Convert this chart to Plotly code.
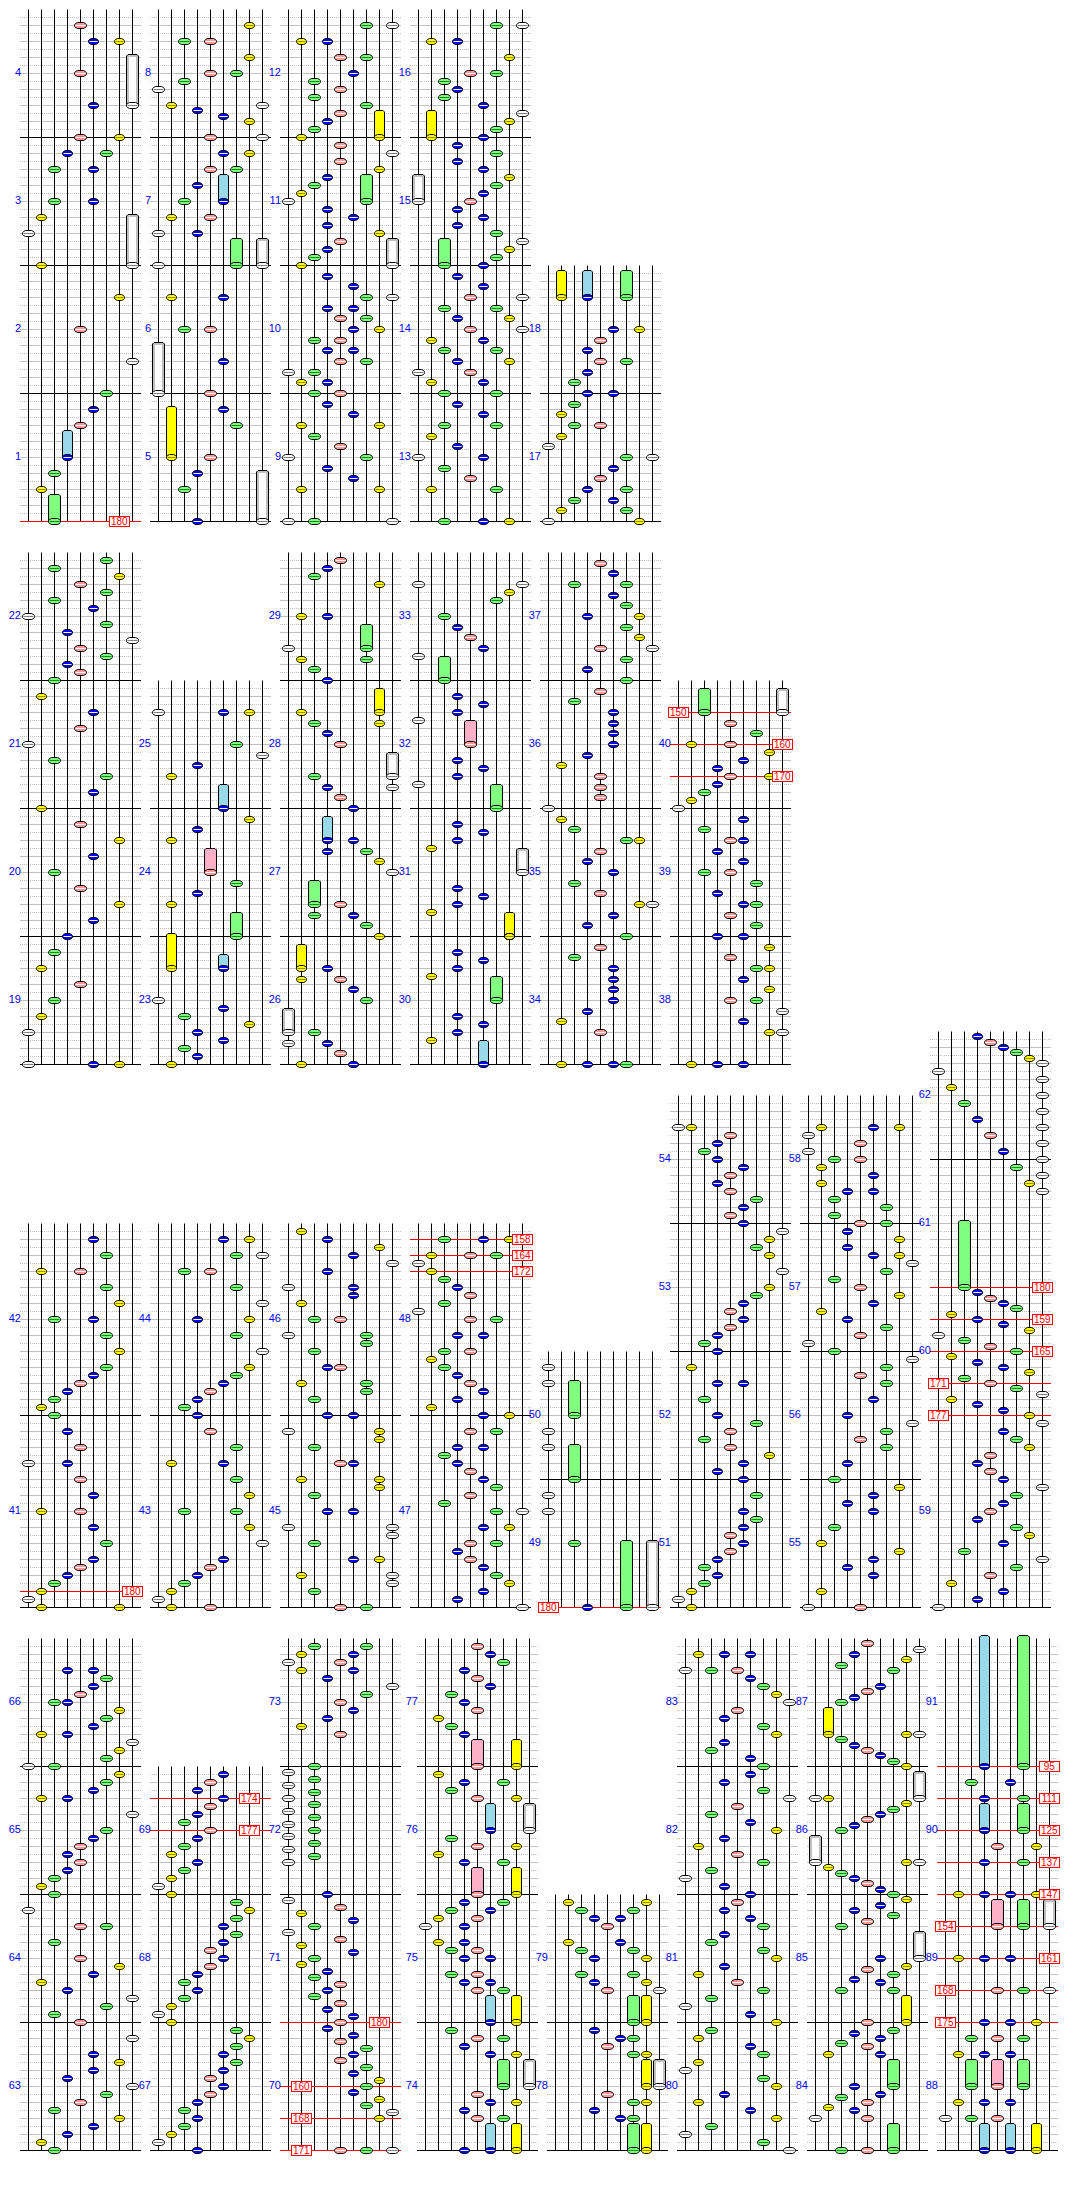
import plotly.graph_objects as go

# ---- data: every note is (tick, lane, lane, ...), ticks counted from the bottom of its column (128 ticks = 4 beats)
LANE_FILL = ["#ffffff", "#ffff00", "#80ff80", "#0000ff", "#ff9999", "#0000ff", "#80ff80", "#ffff00", "#ffffff"]
HOLD_FILL = ["#c0c0c0", "#ffff00", "#80ff80", "#99d9ea", "#ffb0c8", "#99d9ea", "#80ff80", "#ffff00", "#c0c0c0"]
STRIPE = ["#808080", "#909000", "#109010", "#ffffff", "#ffffff", "#ffffff", "#109010", "#909000", "#808080"]

R1C1 = [(32,1),(48,2),(96,4),(112,5),(128,6),(160,8),(192,4),(224,7),(256,1),(288,0),(304,1),(320,2,5),(352,2,5),(368,3,6),(384,4,7),(416,5),(448,4),(480,5,7),(496,4)]
R1C2 = [(0,3),(32,2),(48,3),(64,4),(96,6),(112,5),(128,4),(160,5),(192,2,4),(224,1,5),(256,0),(288,3,0),(304,1,4),(320,2),(336,3),(352,4,6),(368,5,7),(384,4,8),(400,7),(405.33,5),(410.67,3),(416,1,8),(432,0),(440,2),(448,4,6),(464,7),(480,2,4),(496,7)]
R1C3 = [(0,0,2,8),(32,1,7),(42.67,5),(53.33,3),(64,0,6),(74.67,4),(85.33,2),(96,1,7),(106.67,5),(117.33,3),(128,2,4),(138.67,1,3),(149.33,0,2),(160,4,6),(170.67,3,5),(181.33,2,4),(192,5,7),(202.67,4,6),(213.33,3,5),(224,6,8),(234.67,5),(245.33,3),(256,1),(264,2),(272,3),(280,4),(288,7),(296,3),(304,5),(312,3),(320,0),(328,1),(336,2),(344,3),(352,7),(360,4),(368,8),(376,4),(384,1),(392,2),(400,3),(408,4),(416,6),(424,2),(432,4),(440,2),(448,5),(464,6,4),(480,1,3),(496,6,8)]
R1C4 = [(0,2,5,7),(32,1,6),(42.67,4),(53.33,2),(64,0,5),(74.67,3),(85.33,1),(96,2,6),(106.67,5),(117.33,3),(128,2,6),(138.67,1,5),(149.33,0,4),(160,3,7),(170.67,2,6),(181.33,1,5),(192,4,8),(202.67,3,7),(213.33,2,6),(224,4,8),(234.67,5),(245.33,3),(256,5),(264,6),(272,7),(280,8),(288,6),(296,3),(304,5),(312,3),(320,4),(328,5),(336,6),(344,7),(352,5),(360,3),(368,6),(376,3),(384,5),(392,6),(400,7),(408,8),(416,5),(424,2),(432,3),(440,2),(448,6,4),(464,7),(480,1,3),(496,6,8)]
R1C5 = [(0,0,7),(10.67,1,6),(21.33,2,5),(32,3,6),(42.67,4),(53.33,5),(64,6,8),(74.67,0),(85.33,1),(96,2,4),(106.67,1),(117.33,2),(128,3,5),(138.67,2),(149.33,3),(160,4,6),(170.67,3),(181.33,4),(192,5,7)]

R2C1 = [(0,0,5,7),(32,0),(48,1),(64,2),(80,4),(96,1),(112,2),(128,3),(144,5),(160,7),(176,4),(192,2),(208,5),(224,7),(240,4),(256,1),(272,5),(288,6),(304,2),(320,0),(336,4),(352,5),(368,1),(384,2),(392,4),(400,3),(408,6),(416,4),(424,8),(432,3),(440,6),(448,0),(456,5),(464,2),(472,6),(480,4),(488,7),(496,2),(504,6)]
R2C2 = [(0,1),(8,3),(16,2),(24,5),(32,3),(40,7),(48,2),(56,5),(64,0),(160,1),(170.67,3),(181.33,6),(224,1),(234.67,3),(245.33,7),(288,1),(298.67,3),(309.33,8),(320,6),(352,0,5,7)]
R2C3 = [(0,1,5),(10.67,4),(21.33,0,3),(32,2),(64,6),(74.67,5),(85.33,1,4),(96,3),(128,7),(138.67,6),(149.33,2,5),(160,4),(192,8),(202.67,7),(213.33,3,6),(224,5),(256,5),(266.67,4),(277.33,3,8),(288,2),(320,4),(330.67,3),(341.33,2,7),(352,1),(384,3),(394.67,2),(405.33,1,6),(416,0),(448,1,3),(480,7),(488,2),(496,3),(504,4)]
R2C4 = [(24,1),(32,3),(40,5),(48,3),(88,1),(96,3),(104,5),(112,3),(128,7),(152,1),(160,3),(168,5),(176,3),(216,1),(224,3),(232,5),(240,3),(280,0),(288,3),(296,5),(304,3),(344,0),(352,3),(360,5),(368,3),(408,0),(416,5),(426.67,4),(437.33,3),(448,2),(464,6),(472,7),(480,0,8)]
R2C5 = [(0,1,3,5,6),(32,4),(42.67,1),(53.33,3),(64,5),(74.67,5),(85.33,5),(96,5),(106.67,2),(117.33,4),(128,6),(138.67,3),(149.33,5),(160,7,8),(170.67,4),(181.33,2),(192,5),(202.67,3),(213.33,4),(224,6,7),(234.67,2),(245.33,1),(256,0),(266.67,4),(277.33,4),(288,4),(298.67,1),(309.33,3),(320,5),(330.67,5),(341.33,5),(352,5),(362.67,2),(373.33,4),(384,6),(394.67,3),(405.33,6),(416,4,8),(426.67,7),(437.33,6),(448,3,7),(458.67,6),(469.33,5),(480,2,6),(490.67,5),(501.33,4)]
R2C6 = [(0,1,3,5),(32,7,8),(42.67,5),(53.33,8),(64,4,6),(74.67,7),(85.33,5),(96,6,7),(106.67,4),(117.33,7),(128,3,5),(138.67,6),(149.33,4),(160,5,6),(170.67,3),(181.33,6),(192,2,4),(202.67,5),(213.33,3),(224,4,5),(234.67,2),(245.33,5),(256,0),(264,1),(272,2),(280,3),(288,4,7),(296,3),(304,5),(312,7),(320,1,4),(330.67,6),(341.33,4)]

R3C1 = [(0,1,7),(8,0),(16,1),(24,2),(32,3),(40,4),(48,5),(64,6),(80,5),(96,1,4),(112,5),(128,4),(144,0,3),(160,4),(176,3),(192,2),(200,1),(208,2),(216,3),(224,4),(232,5),(240,6),(256,7),(272,6),(288,2,5),(304,7),(320,6),(336,1,4),(352,6),(368,5)]
R3C2 = [(0,1,4),(8,0),(16,1),(24,2),(32,3),(40,4),(48,5),(64,8),(80,7),(96,2,6),(112,7),(128,6),(144,1,5),(160,6),(176,4),(192,3),(200,2),(208,3),(216,4),(224,5),(232,6),(240,7),(256,8),(272,6),(288,3,7),(304,8),(320,6),(336,2,4),(352,6,8),(368,5,7)]
R3C3 = [(0,4,6),(16,2),(24,8),(32,1,8),(48,5,7),(64,2),(72,8),(80,0,8),(96,3,5),(112,2),(120,7),(128,1,7),(144,4,5),(160,2),(168,7),(176,0,7),(192,3,5),(208,2),(216,6),(224,1,6),(240,3,4),(256,2),(264,6),(272,0,6),(288,2,4),(304,1),(312,5),(320,0,5),(336,3),(344,8),(352,5),(360,7),(368,3),(376,1)]
R3C4 = [(0,8),(8,3),(16,5),(24,7),(32,6),(40,5),(48,4),(56,3),(64,4,6),(80,5,7),(96,6,8),(104,2),(112,4),(120,6),(128,5),(136,4),(144,3),(152,2),(160,3,5),(176,4,6),(192,5,7),(200,1),(208,3),(216,5),(224,4),(232,3),(240,2),(248,1),(256,2,4),(272,3,5),(288,4,6),(296,0),(304,2),(312,4),(320,3),(328,2),(336,1),(344,0),(352,1,4,6),(368,2,5,7)]
R3C5 = [(0,3),(64,2),(96,0),(112,0),(160,0),(176,0),(224,0),(240,0)]
R3C6 = [(0,1),(8,0),(16,1),(24,2),(32,3),(40,2),(48,3),(56,4),(64,5),(72,4),(80,5),(88,6),(96,5),(112,6),(128,5),(136,3),(144,5),(152,7),(160,4),(168,2),(176,4),(184,6),(192,3),(208,2),(224,3,5),(240,1),(256,3),(264,2),(272,3),(280,4),(288,5),(296,4),(304,5),(312,6),(320,7),(336,8),(352,7),(360,6),(368,7),(376,8),(384,5),(392,4),(400,5),(408,6),(416,4),(424,3),(432,4),(440,5),(448,3),(456,2),(464,3),(472,4),(480,0,1)]
R3C7 = [(0,0,4),(16,1),(32,5),(40,3),(48,5),(56,7),(64,1),(80,2),(96,5),(104,3),(112,5),(120,7),(128,2),(144,3),(160,6),(168,4),(176,6),(184,8),(192,3),(208,5),(224,6),(232,4),(240,6),(248,8),(256,2),(264,0),(272,4),(280,6),(288,3),(296,1),(304,5),(312,7),(320,4),(328,2),(336,6),(344,8),(352,5,7),(360,3),(368,7),(376,3),(384,4,6),(392,2),(400,6),(408,2),(416,3,5),(424,1),(432,5),(440,1),(448,2,4),(456,0),(464,4),(472,0),(480,1,5,7)]
R3C8 = [(0,0),(8,3),(16,5),(24,1),(32,4),(40,6),(48,8),(56,2),(64,5),(72,7),(80,6),(88,3),(96,4),(104,5),(112,6),(120,8),(128,5),(136,4),(144,3),(152,4),(160,7),(168,6),(176,5),(184,8),(192,7),(197.33,5),(202.67,3),(208,1),(213.33,8),(218.67,6),(224,4),(229.33,2),(234.67,7),(240,5),(245.33,3),(250.67,1),(256,6),(261.33,4),(266.67,2),(272,0),(277.33,7),(282.67,5),(288,3),(293.33,1),(298.67,6),(304,5),(309.33,4),(314.67,3),(416,8),(424,7),(432,8),(440,6),(448,8),(456,5),(464,8),(472,4),(480,8),(488,3),(496,8),(504,2),(512,8),(520,1),(528,8),(536,0),(544,8),(549.33,7),(554.67,6),(560,5),(565.33,4),(570.67,3)]

R4C1 = [(0,2),(8,1),(16,3),(24,5),(32,7),(40,2),(48,4),(56,6),(64,8),(72,3),(80,5),(88,7),(96,5),(112,8),(128,4),(136,2),(144,6),(152,8),(160,3),(168,1),(176,5),(184,7),(192,4),(208,2),(224,4,6),(240,0),(256,2),(264,1),(272,2),(280,3),(288,4),(296,3),(304,4),(312,5),(320,6),(336,8),(352,1,3),(360,5),(368,6),(376,7),(384,0,2),(392,6),(400,7),(408,8),(416,1,3),(424,5),(432,6),(440,7),(448,2,3),(456,4),(464,5),(472,6),(480,3,5)]
R4C2 = [(0,3),(8,0),(16,1),(24,2),(32,3),(40,2),(48,3),(56,4),(64,5),(72,4),(80,5),(88,6),(96,5),(104,6),(112,7),(120,6),(128,1),(136,0),(144,1),(152,2),(160,3),(168,2),(176,3),(184,4),(192,5),(200,4),(208,5),(216,6),(224,5),(232,6),(240,7),(248,6),(256,1),(264,0),(272,1),(280,2),(288,3),(296,1),(304,2),(312,3),(320,4),(328,2),(336,3),(344,4),(352,5),(360,3),(368,4),(376,5)]
R4C3 = [(0,4,6,8),(32,7),(38.4,8),(44.8,6),(51.2,7),(57.6,5),(64,6),(70.4,7),(76.8,5),(83.2,6),(89.6,4),(96,5),(102.4,6),(108.8,4),(115.2,5),(121.6,3),(128,4),(134.4,5),(140.8,3),(147.2,4),(153.6,2),(160,3),(166.4,4),(172.8,2),(179.2,3),(185.6,1),(192,2),(198.4,5),(204.8,1),(211.2,4),(217.6,0),(224,2),(230.4,5),(236.8,1),(243.2,4),(249.6,0),(256,3),(288,0),(294.4,2),(300.8,0),(307.2,2),(313.6,0),(320,2),(326.4,0),(332.8,2),(339.2,0),(345.6,2),(352,0),(358.4,2),(364.8,0),(371.2,2),(377.6,0),(384,2),(416,4),(424,1),(432,3),(440,5),(448,4),(456,6),(464,8),(472,3),(480,1,5),(488,0,4),(496,1,5),(504,2,6)]
R4C4 = [(0,3),(32,4,6),(40,3),(48,5,7),(56,4),(96,5,7),(104,3),(112,4,6),(120,2),(160,4,6),(168,3,5),(176,2,4),(192,3,5),(200,2,4),(208,1,3),(224,0,3),(232,1,4),(240,2,5),(248,3,6),(288,3,6),(296,1),(304,4,7),(312,2),(352,4,7),(360,2),(368,3,6),(376,1),(416,3),(424,2),(432,1),(440,4),(448,3),(456,2),(464,5),(472,4),(480,3),(488,6),(496,5),(504,4)]
R4C5 = [(32,5,6),(40,3),(48,6,7),(56,4),(96,6,7),(104,4),(112,5,6),(120,3),(160,4,8),(168,3,7),(176,2,6),(192,3,7),(200,2,6),(208,1,5),(224,4),(232,3,5),(240,2,6),(248,1,7)]
R4C6 = [(0,8),(8,6),(16,0),(24,2),(32,7),(40,5),(48,1),(56,3),(64,7),(72,6),(80,0),(88,1),(96,6),(104,5),(112,1),(120,2),(128,7),(136,5),(144,0),(152,2),(160,6),(168,4),(176,1),(184,3),(192,7),(200,6),(208,2),(216,3),(224,6),(232,5),(240,3),(248,4),(256,5),(264,3),(272,0),(280,2),(288,6),(296,4),(304,1),(312,3),(320,7),(328,5),(336,2),(344,4),(352,8),(360,6),(368,3),(376,5),(384,6),(392,5),(400,2),(408,3),(416,7),(424,6),(432,3),(440,4),(448,8),(456,7),(464,6),(472,5),(480,0,2,4),(496,1,3,5)]
R4C7 = [(0,2,4),(32,0,4),(40,3),(42.67,1),(48,4),(53.33,2),(56,5),(64,3),(96,1,5),(104,4),(106.67,2),(112,5),(117.33,3),(120,6),(128,4),(160,2,6),(168,5),(170.67,3),(176,6),(181.33,4),(184,7),(192,5),(224,2),(229.33,4),(234.67,6),(240,3),(245.33,5),(250.67,7),(256,6),(261.33,5),(266.67,4),(272,3),(277.33,2),(282.67,1),(288,7,8),(320,2),(325.33,3),(330.67,4),(336,5),(341.33,6),(346.67,7),(352,0,1),(384,7),(389.33,6),(394.67,5),(400,4),(405.33,3),(410.67,2),(416,7,8),(448,2),(453.33,3),(458.67,4),(464,5),(480,6),(485.33,2),(490.67,7),(496,3),(501.33,8),(506.67,4)]
R4C8 = [(32,0,2,4),(48,1,3,5),(96,1,3,5),(112,2,4,6),(128,3,5,7),(160,4,6,8),(192,1,3,5),(256,1,3,5,7),(288,3,6),(304,4,7),(352,3,6),(368,2,5)]

# holds: (lane, start tick, length in ticks)
HOLDS_R1C1 = [(2,0,24),(3,64,24),(8,256,48),(8,416,48)]
HOLDS_R1C2 = [(8,0,48),(1,64,48),(0,128,48),(6,256,24),(8,256,24),(5,320,24)]
HOLDS_R1C3 = [(8,256,24),(6,320,24),(7,384,24)]
HOLDS_R1C4 = [(2,256,24),(0,320,24),(1,384,24)]
HOLDS_R1C5 = [(1,224,24),(3,224,24),(6,224,24)]
HOLDS_R2C2 = [(5,96,10.67),(1,96,32),(6,128,21.33),(4,192,21.33),(5,256,21.33)]
HOLDS_R2C3 = [(0,32,21.33),(1,96,21.33),(2,160,21.33),(3,224,21.33),(8,288,21.33),(7,352,21.33),(6,416,21.33)]
HOLDS_R2C4 = [(5,0,21.33),(6,64,21.33),(7,128,21.33),(8,192,21.33),(6,256,21.33),(4,320,21.33),(2,384,21.33)]
HOLDS_R2C6 = [(2,352,21.33),(8,352,21.33)]
HOLDS_R3C5 = [(6,0,64),(8,0,64),(2,128,32),(2,192,32)]
HOLDS_R3C8 = [(2,320,64)]
HOLDS_R4C4 = [(5,0,24),(7,0,24),(6,64,24),(8,64,24),(5,128,24),(7,128,24),(4,256,24),(7,256,24),(5,320,24),(8,320,24),(4,384,24),(7,384,24)]
HOLDS_R4C5 = [(6,0,24),(7,0,24),(7,64,24),(8,64,24),(6,128,24),(7,128,24)]
HOLDS_R4C7 = [(6,0,24),(6,64,24),(7,128,24),(8,192,24),(0,288,24),(8,352,24),(1,416,24)]
HOLDS_R4C8 = [(3,0,24),(5,0,24),(7,0,24),(2,64,24),(4,64,24),(6,64,24),(4,224,24),(6,224,24),(8,224,24),(3,320,24),(6,320,24),(3,384,128),(6,384,128)]

# tempo changes: (tick, bpm, lane of the label)
BPM_R1C1 = [(0,180,7)]
BPM_R2C6 = [(352,150,0),(320,160,8),(288,170,8)]
BPM_R3C1 = [(16,180,8)]
BPM_R3C4 = [(368,158,8),(352,164,8),(336,172,8)]
BPM_R3C5 = [(0,180,0)]
BPM_R3C8 = [(320,180,8),(288,159,8),(256,165,8),(224,171,0),(192,177,0)]
BPM_R4C2 = [(352,174,7),(320,177,7)]
BPM_R4C3 = [(128,180,7),(64,160,1),(32,168,1),(0,171,1)]
BPM_R4C8 = [(384,95,8),(352,111,8),(320,125,8),(288,137,8),(256,147,8),(224,154,0),(192,161,8),(160,168,0),(128,175,0)]

# measure lengths per column, first measure number
M4 = [128, 128, 128, 128]
M3 = [128, 128, 128]
M2 = [128, 128]
M6 = [192, 192]

ROW_BASE = [521.5, 1064.5, 1607.5, 2150.5]
COLS = [
    # row, left lane x, first measure, measure lengths, notes, holds, bpm
    (0, 28.5, 1, M4, R1C1, HOLDS_R1C1, BPM_R1C1),
    (0, 158.5, 5, M4, R1C2, HOLDS_R1C2, []),
    (0, 288.5, 9, M4, R1C3, HOLDS_R1C3, []),
    (0, 418.5, 13, M4, R1C4, HOLDS_R1C4, []),
    (0, 548.5, 17, M2, R1C5, HOLDS_R1C5, []),
    (1, 28.5, 19, M4, R2C1, [], []),
    (1, 158.5, 23, M3, R2C2, HOLDS_R2C2, []),
    (1, 288.5, 26, M4, R2C3, HOLDS_R2C3, []),
    (1, 418.5, 30, M4, R2C4, HOLDS_R2C4, []),
    (1, 548.5, 34, M4, R2C5, [], []),
    (1, 678.5, 38, M3, R2C6, HOLDS_R2C6, BPM_R2C6),
    (2, 28.5, 41, M6, R3C1, [], BPM_R3C1),
    (2, 158.5, 43, M6, R3C2, [], []),
    (2, 288.5, 45, M6, R3C3, [], []),
    (2, 418.5, 47, M6, R3C4, [], BPM_R3C4),
    (2, 548.5, 49, M2, R3C5, HOLDS_R3C5, BPM_R3C5),
    (2, 678.5, 51, M4, R3C6, [], []),
    (2, 808.5, 55, M4, R3C7, [], []),
    (2, 938.5, 59, [192, 128, 128, 128], R3C8, HOLDS_R3C8, BPM_R3C8),
    (3, 28.5, 63, M4, R4C1, [], []),
    (3, 158.5, 67, M3, R4C2, [], BPM_R4C2),
    (3, 288.5, 70, M4, R4C3, [], BPM_R4C3),
    (3, 425.5, 74, M4, R4C4, HOLDS_R4C4, []),
    (3, 555.5, 78, M2, R4C5, HOLDS_R4C5, []),
    (3, 685.5, 80, M4, R4C6, [], []),
    (3, 815.5, 84, M4, R4C7, HOLDS_R4C7, []),
    (3, 945.5, 88, M4, R4C8, HOLDS_R4C8, BPM_R4C8),
]

LANE_W = 13
GRID_PAD = 8.5
NARROW = {1, 3, 5, 7}
# outline of a note head: (inset from the side, offset from the centre line)
NOTE_OUTLINE = [(0, 0), (0, 0.7), (1, 2), (3, 3)]


def half_width(lane):
    return 5 if lane in NARROW else 6


def snap(y):
    return round(y - 0.5) + 0.5


def add_seg(xs, ys, x0, y0, x1, y1):
    xs += [x0, x1, None]
    ys += [y0, y1, None]


def trace_lines(xs, ys, color, width=1, dash=None):
    return go.Scatter(x=xs, y=ys, mode="lines", hoverinfo="skip", showlegend=False, connectgaps=False,
                      line=dict(color=color, width=width, dash=dash, simplify=False))


def trace_poly(xs, ys, fill, line="#000000", width=1):
    return go.Scatter(x=xs, y=ys, mode="lines", fill="toself", fillcolor=fill, hoverinfo="skip", showlegend=False,
                      line=dict(color=line, width=width, simplify=False))


solid_x, solid_y, dot_x, dot_y = [], [], [], []
lane_x, lane_y, bar_x, bar_y = [], [], [], []
red_x, red_y = [], []
label_x, label_y, label_t = [], [], []
note_poly = [([], []) for _ in range(9)]
note_stripe = [([], []) for _ in range(9)]
hold_poly = [([], []) for _ in range(9)]
hold_core_x, hold_core_y = [], []
annotations = []


def add_note(lane, cx, cy):
    rx = half_width(lane)
    cy = snap(cy)
    px, py = note_poly[lane]
    top = [(cx + rx - a, cy - b) for a, b in NOTE_OUTLINE]
    top += [(cx - rx + a, cy - b) for a, b in reversed(NOTE_OUTLINE)]
    bottom = [(cx - rx + a, cy + b) for a, b in NOTE_OUTLINE[1:]]
    bottom += [(cx + rx - a, cy + b) for a, b in reversed(NOTE_OUTLINE)]
    for x, y in top + bottom:
        px.append(x)
        py.append(y)
    px.append(None)
    py.append(None)
    sx, sy = note_stripe[lane]
    add_seg(sx, sy, cx - rx + 1, cy, cx + rx - 1, cy)


for row, x0, first, lengths, notes, holds, bpms in COLS:
    base = ROW_BASE[row]
    total = sum(lengths)
    left, right = x0 - GRID_PAD, x0 + 8 * LANE_W + GRID_PAD
    for t in range(8, total, 8):
        if t % 16 == 0:
            add_seg(solid_x, solid_y, left, base - t, right, base - t)
        else:
            add_seg(dot_x, dot_y, left, base - t, right, base - t)
    for lane in range(9):
        add_seg(lane_x, lane_y, x0 + lane * LANE_W, base, x0 + lane * LANE_W, base - total)
    pos = 0
    for i, m in enumerate(lengths):
        add_seg(bar_x, bar_y, left, base - pos, right, base - pos)
        label_x.append(x0 - 7.5)
        label_y.append(base - pos - m / 2)
        label_t.append(str(first + i))
        pos += m
    for tick, value, lab_lane in bpms:
        add_seg(red_x, red_y, left, base - tick, right, base - tick)
        annotations.append(dict(x=x0 + lab_lane * LANE_W, y=base - tick, xref="x", yref="y", text=str(value),
                                showarrow=False, xanchor="center", yanchor="middle", width=19, height=9,
                                bgcolor="#ffffff", bordercolor="#ff0000", borderwidth=1, borderpad=0,
                                font=dict(family="Liberation Sans", size=10, color="#ff0000")))
    for lane, start, length in holds:
        cx = x0 + lane * LANE_W
        w = half_width(lane)
        y0, y1 = base - start, snap(base - start - length - 3)
        px, py = hold_poly[lane]
        px += [cx - w, cx - w, cx - w + 1.5, cx + w - 1.5, cx + w, cx + w, cx - w, None]
        py += [y0, y1 + 1.5, y1, y1, y1 + 1.5, y0, y0, None]
        if lane in (0, 8):
            hold_core_x += [cx - 3.5, cx - 3.5, cx + 3.5, cx + 3.5, cx - 3.5, None]
            hold_core_y += [y0, y1 + 2.5, y1 + 2.5, y0, y0, None]
        add_note(lane, cx, y0)
    for item in notes:
        tick = item[0]
        for lane in item[1:]:
            add_note(lane, x0 + lane * LANE_W, base - tick)

traces = [
    trace_lines(dot_x, dot_y, "#c0c0c0", 1, "1px,1px"),
    trace_lines(solid_x, solid_y, "#c0c0c0", 1),
    trace_lines(bar_x, bar_y, "#000000", 1),
    trace_lines(lane_x, lane_y, "#000000", 1),
    trace_lines(red_x, red_y, "#ff0000", 1),
]
for lane in range(9):
    if hold_poly[lane][0]:
        traces.append(trace_poly(hold_poly[lane][0], hold_poly[lane][1], HOLD_FILL[lane]))
traces.append(go.Scatter(x=hold_core_x, y=hold_core_y, mode="lines", fill="toself", fillcolor="#ffffff",
                         hoverinfo="skip", showlegend=False, line=dict(color="#ffffff", width=0, simplify=False)))
for lane in range(9):
    traces.append(trace_poly(note_poly[lane][0], note_poly[lane][1], LANE_FILL[lane]))
    traces.append(trace_lines(note_stripe[lane][0], note_stripe[lane][1], STRIPE[lane], 1))
traces.append(go.Scatter(x=label_x, y=label_y, text=label_t, mode="text", textposition="middle left",
                         hoverinfo="skip", showlegend=False,
                         textfont=dict(family="Liberation Sans", size=11, color="#0000ff")))

fig = go.Figure(traces)
fig.update_layout(
    width=1084, height=2196, margin=dict(l=0, r=0, t=0, b=0, pad=0),
    paper_bgcolor="#ffffff", plot_bgcolor="#ffffff", showlegend=False, annotations=annotations,
    xaxis=dict(range=[0, 1084], visible=False, fixedrange=True),
    yaxis=dict(range=[2196, 0], visible=False, fixedrange=True),
)
fig.write_html("out.html", config={"displayModeBar": False},
               post_script="document.body.style.margin='0';document.documentElement.style.overflow='hidden';")
